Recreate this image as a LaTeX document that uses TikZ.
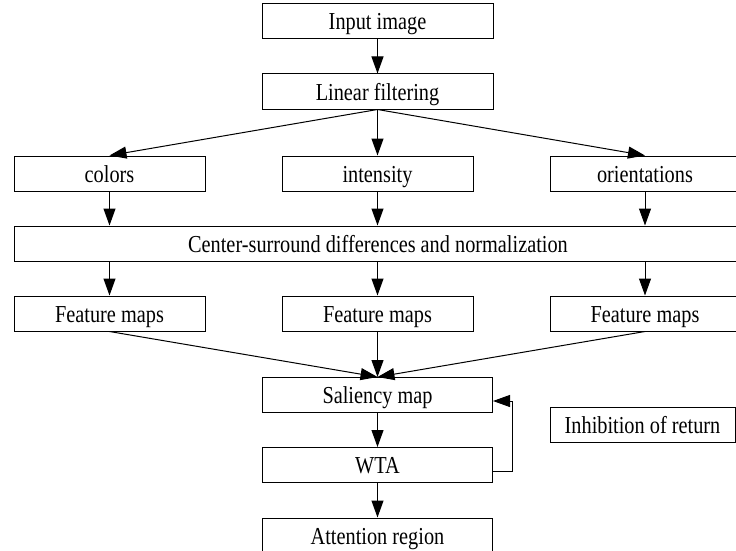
\documentclass[tikz,border=0pt]{standalone}
\usepackage{fontspec}
\setmainfont{Liberation Serif}
\usetikzlibrary{arrows.meta}
\newcommand{\stx}[1]{\scalebox{1}[1.2]{#1}}
\begin{document}
\begin{tikzpicture}[x=1pt,y=-1pt,
  box/.style={draw=black,line width=1pt,minimum height=35pt,inner sep=0pt,
    text height=17pt,text depth=0pt,
    font=\fontsize{20.3pt}{24pt}\selectfont},
  conn/.style={line width=1pt,-{Triangle[length=17pt,width=12pt]}},
  plain/.style={line width=1pt}]
\useasboundingbox (0,0) rectangle (736,551);
\clip (0,0) rectangle (736,551);
\node[box,minimum width=231pt] (in) at (377.5,21.5) {\stx{Input image}};
\node[box,minimum width=231pt] (lf) at (377.5,91.5) {\stx{Linear filtering}};
\node[box,minimum width=191pt] (col) at (109.5,173.5) {\stx{colors}};
\node[box,minimum width=191pt] (int) at (377.5,173.5) {\stx{intensity}};
\node[box,minimum width=190pt] (ori) at (645,173.5) {\stx{orientations}};
\node[box,minimum width=728pt] (csd) at (378,243.5) {\stx{Center-surround differences and normalization}};
\node[box,minimum width=191pt] (fm1) at (109.5,313.5) {\stx{Feature maps}};
\node[box,minimum width=191pt] (fm2) at (377.5,313.5) {\stx{Feature maps}};
\node[box,minimum width=190pt] (fm3) at (645,313.5) {\stx{Feature maps}};
\node[box,minimum width=230pt] (sal) at (377.5,395) {\stx{Saliency map}};
\node[box,minimum width=185pt] (inh) at (642.5,424.5) {\stx{Inhibition of return}};
\node[box,minimum width=230pt] (wta) at (377.5,465) {\stx{WTA}};
\node[box,minimum width=230pt] (att) at (377.5,535.5) {\stx{Attention region}};
\draw[conn] (in.south) -- (lf.north);
\draw[conn] (lf.south) -- (col.north);
\draw[conn] (lf.south) -- (int.north);
\draw[conn] (lf.south) -- (ori.north);
\draw[conn] (col.south) -- (col.south |- csd.north);
\draw[conn] (int.south) -- (int.south |- csd.north);
\draw[conn] (ori.south) -- (ori.south |- csd.north);
\draw[conn] (fm1.north |- csd.south) -- (fm1.north);
\draw[conn] (fm2.north |- csd.south) -- (fm2.north);
\draw[conn] (fm3.north |- csd.south) -- (fm3.north);
\draw[conn] (fm1.south) -- (sal.north);
\draw[conn] (fm2.south) -- (sal.north);
\draw[conn] (fm3.south) -- (sal.north);
\draw[conn] (sal.south) -- (wta.north);
\draw[conn] (wta.south) -- (att.north);
\coordinate (fb) at (512,0);
\draw[conn] ([yshift=-6pt]wta.east) -- ([yshift=-6pt]wta.east -| fb) -- ([yshift=-6pt]sal.east -| fb) -- ([yshift=-6pt]sal.east);
\end{tikzpicture}
\end{document}
